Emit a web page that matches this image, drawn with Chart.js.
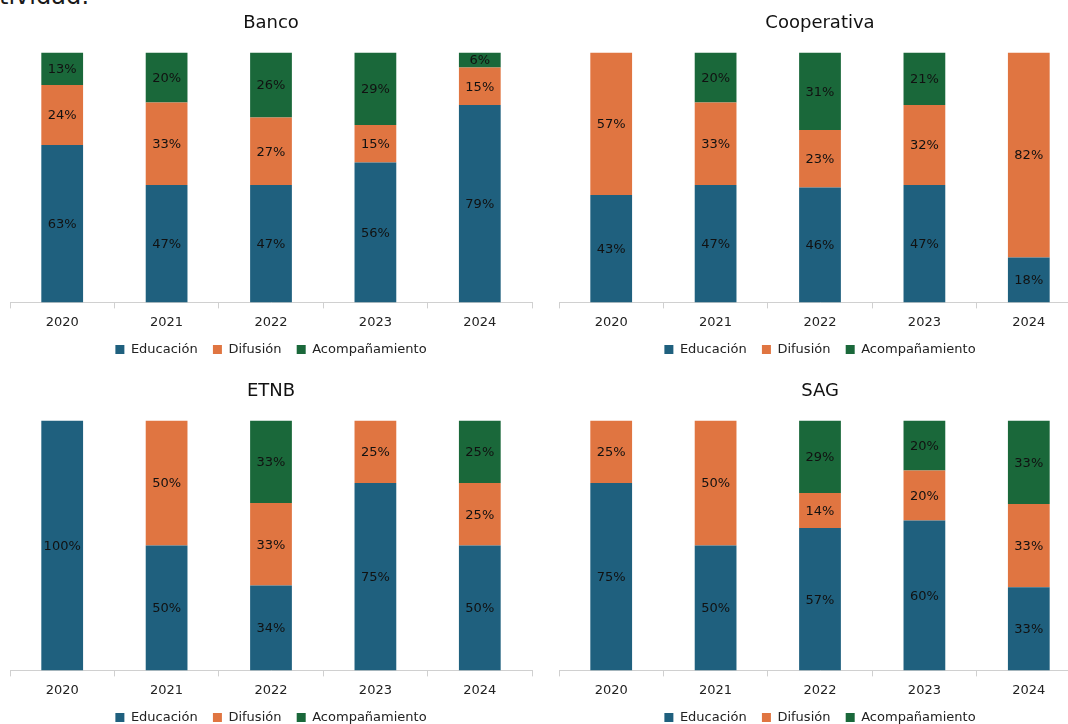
<!DOCTYPE html>
<html>
<head>
<meta charset="utf-8">
<script src="https://cdn.jsdelivr.net/npm/chart.js@4.4.1/dist/chart.umd.min.js"></script>
<style>
    html, body { margin: 0; padding: 0; background: #fff; overflow: hidden; width: 1068px; height: 724px; }
    .wrap { position: absolute; width: 545px; height: 366px; }
    .cut { position: absolute; left: -1px; top: -18px; font: 24px 'DejaVu Sans', sans-serif; color: #1a1a1a; }
</style>
</head>
<body>
<div class="cut">tividad:</div>
<div class="wrap" style="left:0; top:0;"><canvas id="banco"></canvas></div>
<div class="wrap" style="left:549px; top:0;"><canvas id="coop"></canvas></div>
<div class="wrap" style="left:0; top:368px;"><canvas id="etnb"></canvas></div>
<div class="wrap" style="left:549px; top:368px;"><canvas id="sag"></canvas></div>
<script>
// Shared categories / series names
const YEARS = ['2020', '2021', '2022', '2023', '2024'];
const SERIES = ['Educación', 'Difusión', 'Acompañamiento'];
const COLORS = ['#1F607E', '#E07541', '#1A683A'];

// Values in % per year
const BANCO_EDU = [63, 47, 47, 56, 79];
const BANCO_DIF = [24, 33, 27, 15, 15];
const BANCO_ACO = [13, 20, 26, 29, 6];

const COOP_EDU = [43, 47, 46, 47, 18];
const COOP_DIF = [57, 33, 23, 32, 82];
const COOP_ACO = [0, 20, 31, 21, 0];

const ETNB_EDU = [100, 50, 34, 75, 50];
const ETNB_DIF = [0, 50, 33, 25, 25];
const ETNB_ACO = [0, 0, 33, 0, 25];

const SAG_EDU = [75, 50, 57, 60, 33.3];
const SAG_DIF = [25, 50, 14, 20, 33.3];
const SAG_ACO = [0, 0, 29, 20, 33.4];

const FONT = "'DejaVu Sans', Verdana, sans-serif";

// ── Inline value labels (no datalabels plugin available) ───────────────────
const valueLabels = {
    id: 'valueLabels',
    afterDatasetsDraw(chart) {
        const ctx = chart.ctx;
        ctx.save();
        ctx.font = `13px ${FONT}`;
        ctx.fillStyle = '#111';
        ctx.textAlign = 'center';
        ctx.textBaseline = 'middle';
        chart.data.datasets.forEach((ds, i) => {
            const meta = chart.getDatasetMeta(i);
            meta.data.forEach((bar, j) => {
                const v = ds.data[j];
                if (!v) return;
                const { x, y, base } = bar.getProps(['x', 'y', 'base'], true);
                ctx.fillText(`${Math.round(v)}%`, x, (y + base) / 2 + 1);
            });
        });
        ctx.restore();
    },
};

function makeChart(id, title, edu, dif, aco) {
    const values = [edu, dif, aco];
    new Chart(document.getElementById(id), {
        type: 'bar',
        data: {
            labels: YEARS,
            datasets: SERIES.map((name, i) => ({
                label: name,
                data: values[i],
                backgroundColor: COLORS[i],
                borderWidth: 0,
                barPercentage: 0.4,
                categoryPercentage: 1,
            })),
        },
        options: {
            responsive: true,
            maintainAspectRatio: false,
            animation: false,
            layout: { padding: { left: 10, right: 13, top: 0, bottom: 0 } },
            plugins: {
                title: {
                    display: true,
                    text: title,
                    color: '#111',
                    font: { family: FONT, size: 18, weight: 'normal' },
                    padding: { top: 13, bottom: 18 },
                },
                legend: {
                    position: 'bottom',
                    labels: {
                        color: '#222',
                        font: { family: FONT, size: 13 },
                        boxWidth: 9,
                        boxHeight: 9,
                        padding: 7,
                        // extra room between items, like the original legend
                        generateLabels: (chart) =>
                            Chart.defaults.plugins.legend.labels.generateLabels(chart)
                                .map((item, i) => ({ ...item, text: i < SERIES.length - 1 ? item.text + '  ' : item.text })),
                    },
                },
                tooltip: { enabled: false },
            },
            scales: {
                x: {
                    stacked: true,
                    ticks: { color: '#222', font: { family: FONT, size: 13 }, padding: 6 },
                    grid: { drawOnChartArea: false, drawTicks: true, tickLength: 6, color: '#d0d0d0' },
                    border: { color: '#d0d0d0' },
                },
                y: {
                    stacked: true,
                    display: false,
                    min: 0,
                    max: 100,
                },
            },
        },
        plugins: [valueLabels],
    });
}

makeChart('banco', 'Banco', BANCO_EDU, BANCO_DIF, BANCO_ACO);
makeChart('coop', 'Cooperativa', COOP_EDU, COOP_DIF, COOP_ACO);
makeChart('etnb', 'ETNB', ETNB_EDU, ETNB_DIF, ETNB_ACO);
makeChart('sag', 'SAG', SAG_EDU, SAG_DIF, SAG_ACO);
</script>
</body>
</html>
